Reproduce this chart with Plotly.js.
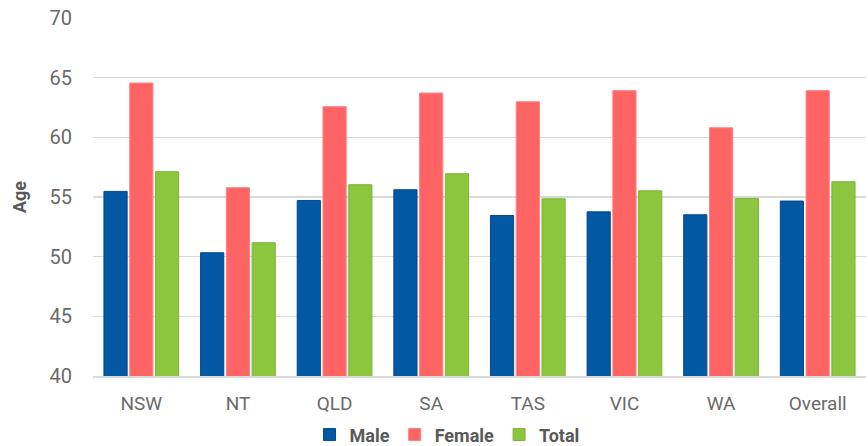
<!DOCTYPE html>
<html>
<head>
<meta charset="utf-8">
<script src="https://cdn.plot.ly/plotly-3.0.1.min.js"></script>
<style>html,body{margin:0;padding:0;background:#fff}#chart{width:868px;height:446px}</style>
</head>
<body>
<div id="chart"></div>
<script>
const categories = ["NSW","NT","QLD","SA","TAS","VIC","WA","Overall"];
const male   = [55.47, 50.33, 54.71, 55.61, 53.45, 53.76, 53.51, 54.66];
const female = [64.55, 55.78, 62.57, 63.71, 62.98, 63.91, 60.80, 63.91];
const total  = [57.12, 51.17, 56.03, 56.95, 54.85, 55.52, 54.88, 56.28];
const yTicks = [40, 45, 50, 55, 60, 65, 70];

const mk = (name, y, color, line) => ({
  type: "bar", name: name, x: categories, y: y,
  marker: {color: color, line: {color: line, width: 1}},
  hoverinfo: "x+y+name"
});

const data = [
  mk("Male", male, "#0258a3", "#014a8c"),
  mk("Female", female, "#ff6464", "#ff8080"),
  mk("Total", total, "#8cc63f", "#7cb534")
];

const layout = {
  width: 868, height: 446,
  margin: {l: 93, r: 2, t: 18, b: 70, autoexpand: false},
  paper_bgcolor: "#ffffff", plot_bgcolor: "#ffffff",
  font: {family: "Roboto, 'Open Sans', sans-serif", color: "#595959", size: 19},
  barmode: "group", bargap: 0.2, bargroupgap: 0.1,
  showlegend: true,
  legend: {orientation: "h", x: 0.515, xref: "container", xanchor: "center",
           y: 0.025, yref: "container", yanchor: "middle",
           font: {size: 18, color: "#595959", weight: "bold"}, itemwidth: 20, traceorder: "normal"},
  xaxis: {
    type: "category", showgrid: false, showline: true, linecolor: "#d9d9d9", linewidth: 2,
    ticks: "", tickfont: {size: 19, color: "#6a6a6a"}, ticklabelstandoff: 9, automargin: false
  },
  yaxis: {
    range: [40, 70], tickvals: yTicks, showgrid: true, gridcolor: "#d9d9d9", gridwidth: 1.5,
    zeroline: false, showline: false, ticks: "",
    tickfont: {size: 20, color: "#6a6a6a"}, ticklabelstandoff: 20, automargin: false,
    title: {text: "Age", font: {size: 18, color: "#595959", weight: "bold"}, standoff: 18}
  }
};

Plotly.newPlot("chart", data, layout, {displayModeBar: false, staticPlot: true});
</script>
</body>
</html>
